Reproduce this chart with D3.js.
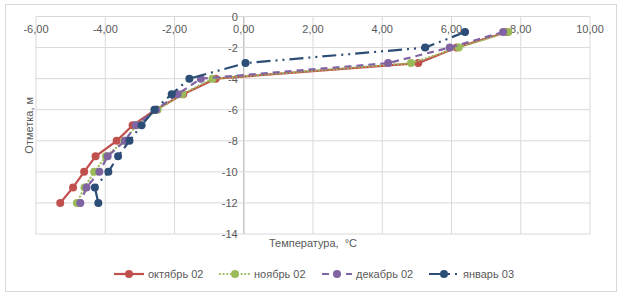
<!DOCTYPE html>
<html>
<head>
<meta charset="utf-8">
<script src="https://cdn.jsdelivr.net/npm/d3@7"></script>
<style>
  body { margin: 0; background: #fff; }
  svg { display: block; font-family: 'Liberation Sans', Arial, sans-serif; }
</style>
</head>
<body>
<svg id="chart" width="623" height="297"></svg>
<script>
const depths = [-1, -2, -3, -4, -5, -6, -7, -8, -9, -10, -11, -12]
const oct02 = [7.60, 6.15, 5.04, -0.81, -1.75, -2.55, -3.21, -3.67, -4.28, -4.61, -4.93, -5.30]
const nov02 = [7.64, 6.21, 4.83, -0.90, -1.78, -2.49, -3.10, -3.45, -3.98, -4.32, -4.60, -4.82]
const dec02 = [7.49, 5.95, 4.17, -1.24, -1.91, -2.53, -3.12, -3.43, -3.93, -4.17, -4.54, -4.72]
const jan03 = [6.39, 5.24, 0.05, -1.57, -2.08, -2.58, -2.95, -3.30, -3.63, -3.91, -4.30, -4.20]
const seriesNames = ['октябрь 02', 'ноябрь 02', 'декабрь 02', 'январь 03']
const xTicks = [-6, -4, -2, 0, 2, 4, 6, 8, 10]
const yTicks = [0, -2, -4, -6, -8, -10, -12, -14]

const series = [
  { name: seriesNames[0], values: oct02, color: '#C0504D', dash: null, cap: 'butt' },
  { name: seriesNames[1], values: nov02, color: '#9BBB59', dash: '0.1,3.5', cap: 'round' },
  { name: seriesNames[2], values: dec02, color: '#8064A2', dash: '7,5', cap: 'butt' },
  { name: seriesNames[3], values: jan03, color: '#2C4D75', dash: '14,5,2,5,2,5', cap: 'butt' }
]

const svg = d3.select('#chart')
const width = 623, height = 297
const margin = { top: 16.5, right: 33, bottom: 63, left: 36 }

// outer border
svg.append('rect')
  .attr('x', 5.5).attr('y', 4.5).attr('width', 611).attr('height', 287)
  .attr('fill', '#fff').attr('stroke', '#d9d9d9')

const x = d3.scaleLinear().domain([-6, 10]).range([margin.left, width - margin.right])
const y = d3.scaleLinear().domain([-14, 0]).range([height - margin.bottom, margin.top])

const grid = svg.append('g')
xTicks.forEach(t => {
  grid.append('line')
    .attr('x1', x(t)).attr('x2', x(t)).attr('y1', y(0)).attr('y2', y(-14))
    .attr('stroke', t === 0 ? '#bfbfbf' : '#d9d9d9').attr('stroke-width', t === 0 ? 1.3 : 1)
})
yTicks.forEach(t => {
  grid.append('line')
    .attr('x1', x(-6)).attr('x2', x(10)).attr('y1', y(t)).attr('y2', y(t))
    .attr('stroke', '#d9d9d9')
})

const fmt = d => d3.format('.2f')(d).replace('.', ',').replace('−', '-')

// x axis labels along top
svg.append('g').selectAll('text')
  .data(xTicks)
  .join('text')
  .attr('x', d => x(d))
  .attr('y', y(0) + 16)
  .attr('text-anchor', 'middle')
  .attr('font-size', 11)
  .attr('fill', '#595959')
  .text(fmt)

// y axis labels at x = 0
svg.append('g').selectAll('text')
  .data(yTicks)
  .join('text')
  .attr('x', x(0) - 6)
  .attr('y', d => y(d) + 4)
  .attr('text-anchor', 'end')
  .attr('font-size', 11)
  .attr('fill', '#595959')
  .text(d => String(d))

// axis titles
svg.append('text')
  .attr('x', (x(-6) + x(10)) / 2)
  .attr('y', 247)
  .attr('text-anchor', 'middle')
  .attr('font-size', 11)
  .attr('fill', '#595959')
  .style('white-space', 'pre')
  .text('Температура,  °С')

svg.append('text')
  .attr('transform', `translate(33,${(y(0) + y(-14)) / 2}) rotate(-90)`)
  .attr('text-anchor', 'middle')
  .attr('font-size', 11)
  .attr('fill', '#595959')
  .text('Отметка, м')

const line = d3.line().x(d => x(d[0])).y(d => y(d[1]))

series.forEach(s => {
  const pts = s.values.map((v, i) => [v, depths[i]])
  const g = svg.append('g')
  g.append('path')
    .attr('d', line(pts))
    .attr('fill', 'none')
    .attr('stroke', s.color)
    .attr('stroke-width', 2.2)
    .attr('stroke-dasharray', s.dash)
    .attr('stroke-linecap', s.cap)
  g.selectAll('circle')
    .data(pts)
    .join('circle')
    .attr('cx', d => x(d[0]))
    .attr('cy', d => y(d[1]))
    .attr('r', 4)
    .attr('fill', s.color)
})

// legend
const legendX = [114, 220, 322, 429]
const legendY = 274
const legend = svg.append('g')
series.forEach((s, i) => {
  const x0 = legendX[i]
  legend.append('line')
    .attr('x1', x0).attr('x2', x0 + 30).attr('y1', legendY).attr('y2', legendY)
    .attr('stroke', s.color).attr('stroke-width', 2.2)
    .attr('stroke-dasharray', s.dash)
    .attr('stroke-linecap', s.cap)
  legend.append('circle')
    .attr('cx', x0 + 15).attr('cy', legendY).attr('r', 4).attr('fill', s.color)
  legend.append('text')
    .attr('x', x0 + 34).attr('y', legendY + 4)
    .attr('font-size', 11)
    .attr('fill', '#595959')
    .text(s.name)
})
</script>
</body>
</html>
